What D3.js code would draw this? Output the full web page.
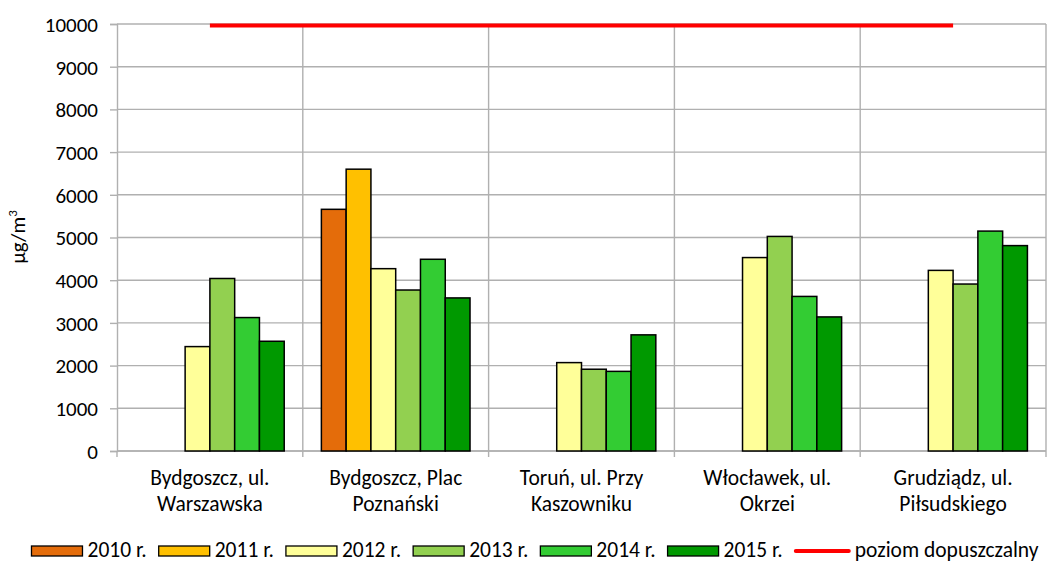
<!DOCTYPE html>
<html>
<head>
<meta charset="utf-8">
<script src="https://cdn.jsdelivr.net/npm/d3@7/dist/d3.min.js"></script>
<style>
  html, body { margin: 0; padding: 0; background: #fff; }
  svg { display: block; font-family: Carlito, Lato, "Open Sans", sans-serif; }
  svg text { font-family: Carlito, Lato, "Open Sans", sans-serif; font-size: 21px; fill: #000; }
  svg text.cat { font-size: 21.5px; }
  svg text.leg { font-size: 21.5px; }
</style>
</head>
<body>
<svg id="chart" width="1047" height="562"></svg>
<script>
// Stations (two-line labels) and yearly concentrations in µg/m³
const categories = [
  ["Bydgoszcz, ul.", "Warszawska"],
  ["Bydgoszcz, Plac", "Poznański"],
  ["Toruń, ul. Przy", "Kaszowniku"],
  ["Włocławek, ul.", "Okrzei"],
  ["Grudziądz, ul.", "Piłsudskiego"]
];
const years = ["2010 r.", "2011 r.", "2012 r.", "2013 r.", "2014 r.", "2015 r."];
const values2010 = [null, 5660, null, null, null];
const values2011 = [null, 6600, null, null, null];
const values2012 = [2445, 4270, 2070, 4530, 4230];
const values2013 = [4040, 3770, 1915, 5025, 3910];
const values2014 = [3125, 4490, 1865, 3620, 5150];
const values2015 = [2570, 3585, 2720, 3140, 4810];
const limitLabel = "poziom dopuszczalny";
const limitValues = [10000, 10000, 10000, 10000, 10000];
const yTicks = [0, 1000, 2000, 3000, 4000, 5000, 6000, 7000, 8000, 9000, 10000];
const colors = ["#E46C0A", "#FFC000", "#FFFF99", "#92D050", "#33CC33", "#009900"];

const series = [values2010, values2011, values2012, values2013, values2014, values2015];
const catKeys = categories.map(c => c.join(" "));

const svg = d3.select("#chart");
const plotLeft = 117, plotRight = 1046, plotTop = 24, plotBottom = 451;

const x = d3.scaleBand().domain(catKeys).range([plotLeft, plotRight]).padding(0);
const xInner = d3.scaleBand().domain(years).range([0, x.bandwidth()])
  .paddingInner(0).paddingOuter(0.75);
const y = d3.scaleLinear().domain([0, 10000]).range([plotBottom, plotTop]);

const gridColor = "#B0B0B0";

// horizontal grid
svg.append("g").selectAll("line").data(yTicks).join("line")
  .attr("x1", plotLeft).attr("x2", plotRight)
  .attr("y1", d => y(d)).attr("y2", d => y(d))
  .attr("stroke", gridColor).attr("stroke-width", 1.4);

// vertical grid at category boundaries
const bounds = catKeys.map(k => x(k)).concat([plotRight]);
svg.append("g").selectAll("line").data(bounds.slice(1)).join("line")
  .attr("x1", d => d).attr("x2", d => d)
  .attr("y1", plotTop).attr("y2", plotBottom)
  .attr("stroke", gridColor).attr("stroke-width", 1.4);

// y axis
const yAxis = d3.axisLeft(y).tickValues(yTicks).tickSize(7).tickPadding(12).tickFormat(d3.format("d"));
const gy = svg.append("g").attr("transform", `translate(${plotLeft},0)`).call(yAxis);
gy.attr("font-size", null).attr("font-family", null);
gy.select(".domain").attr("stroke", gridColor).attr("stroke-width", 1.4);
gy.selectAll(".tick line").attr("stroke", gridColor).attr("stroke-width", 1.4);
gy.selectAll(".tick text").attr("fill", null).attr("dy", "0.35em");

// x axis line and boundary ticks
const gx = svg.append("g");
gx.append("line").attr("x1", plotLeft).attr("x2", plotRight).attr("y1", plotBottom).attr("y2", plotBottom)
  .attr("stroke", gridColor).attr("stroke-width", 1.4);
gx.selectAll("line.bt").data(bounds).join("line").attr("class", "bt")
  .attr("x1", d => d).attr("x2", d => d).attr("y1", plotBottom).attr("y2", plotBottom + 6)
  .attr("stroke", gridColor).attr("stroke-width", 1.4);

// category labels, two lines each
const labelLines = [0, 1];
svg.append("g").selectAll("g").data(categories).join("g")
  .attr("transform", (d, i) => `translate(${x(catKeys[i]) + x.bandwidth() / 2},0)`)
  .selectAll("text").data(d => labelLines.map(j => d[j])).join("text")
  .attr("class", "cat")
  .attr("text-anchor", "middle")
  .attr("x", 0).attr("y", (d, j) => 485 + j * 26)
  .text(d => d);

// bars
const bars = [];
series.forEach((vals, s) => vals.forEach((v, c) => {
  if (v != null) bars.push({ s, c, v });
}));
svg.append("g").selectAll("rect").data(bars).join("rect")
  .attr("x", d => x(catKeys[d.c]) + xInner(years[d.s]))
  .attr("width", xInner.bandwidth())
  .attr("y", d => y(d.v))
  .attr("height", d => y(0) - y(d.v))
  .attr("fill", d => colors[d.s])
  .attr("stroke", "#000").attr("stroke-width", 1.5);

// limit line
const line = d3.line().x((d, i) => x(catKeys[i]) + x.bandwidth() / 2).y(d => y(d));
svg.append("path").datum(limitValues).attr("d", line)
  .attr("fill", "none").attr("stroke", "#FF0000").attr("stroke-width", 4)
  .attr("transform", "translate(0,1.5)");

// y axis title
const yt = svg.append("text").attr("transform", "translate(25,237) rotate(-90)")
  .attr("text-anchor", "middle");
yt.append("tspan").text("µg/m");
yt.append("tspan").style("font-size", "13px").attr("dy", -8).text("3");

// legend, laid out left to right and centred
const legend = svg.append("g");
const items = years.map((yr, i) => ({ label: yr, color: colors[i], type: "rect" }))
  .concat([{ label: limitLabel, color: "#FF0000", type: "line" }]);
let cx = 0;
const ly = 551;
items.forEach(it => {
  const g = legend.append("g").attr("transform", `translate(${cx},0)`);
  if (it.type === "rect") {
    g.append("rect").attr("x", 0).attr("y", ly - 5).attr("width", 51).attr("height", 10)
      .attr("fill", it.color).attr("stroke", "#000").attr("stroke-width", 1.3);
  } else {
    g.append("line").attr("x1", 1).attr("x2", 54).attr("y1", ly).attr("y2", ly)
      .attr("stroke", it.color).attr("stroke-width", 4).attr("stroke-linecap", "round");
  }
  const t = g.append("text").attr("class", "leg")
    .attr("x", it.type === "rect" ? 56 : 60).attr("y", ly + 6).text(it.label);
  cx += (it.type === "rect" ? 56 : 60) + t.node().getComputedTextLength() + 12;
});
const totalW = cx - 12;
legend.attr("transform", `translate(${535 - totalW / 2},0)`);
</script>
</body>
</html>
